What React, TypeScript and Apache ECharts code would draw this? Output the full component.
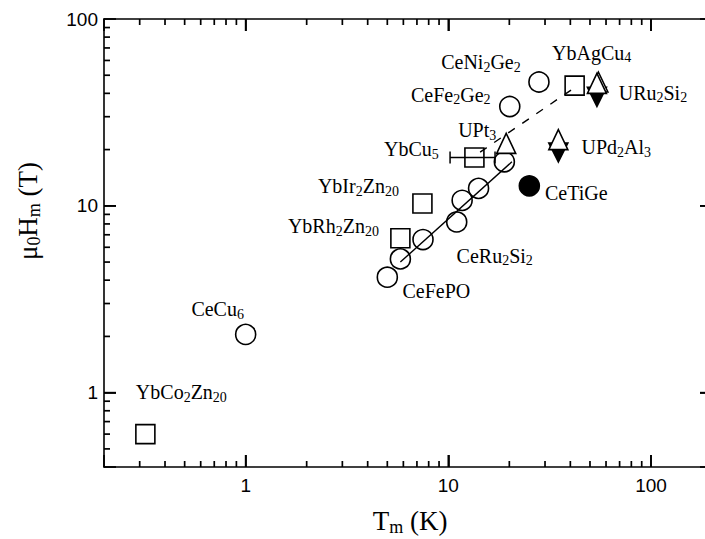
import React, { useEffect, useRef } from "react";
import * as echarts from "echarts";

// Axis ranges (log-log)
const X_MIN = 0.2;
const X_MAX = 200;
const Y_MIN = 0.4;
const Y_MAX = 100;

// Decades: labelled major ticks
const decadeLabels = [1, 10, 100];

// Minor tick positions inside each decade
const xMinorTicks = [0.3, 0.4, 0.5, 0.6, 0.7, 0.8, 0.9, 2, 3, 4, 5, 6, 7, 8, 9, 20, 30, 40, 50, 60, 70, 80, 90];
const yMinorTicks = [0.5, 0.6, 0.7, 0.8, 0.9, 2, 3, 4, 5, 6, 7, 8, 9, 20, 30, 40, 50, 60, 70, 80, 90];

// [Tm (K), mu0 Hm (T), compound]
const openCircles: [number, number, string][] = [
  [1.0, 2.05, "CeCu6"],
  [5.0, 4.15, "CeFePO"],
  [5.8, 5.2, ""],
  [7.5, 6.6, ""],
  [11.0, 8.2, "CeRu2Si2"],
  [11.7, 10.7, ""],
  [14.1, 12.4, ""],
  [18.9, 17.2, ""],
  [20.1, 34, "CeFe2Ge2"],
  [28, 46, "CeNi2Ge2"],
];

const openSquares: [number, number, string][] = [
  [0.32, 0.6, "YbCo2Zn20"],
  [5.8, 6.7, "YbRh2Zn20"],
  [7.45, 10.3, "YbIr2Zn20"],
  [13.45, 18.15, "YbCu5"],
  [42, 44, "YbAgCu4"],
];

const filledCircles: [number, number, string][] = [[25.1, 12.8, "CeTiGe"]];

const filledDownTriangles: [number, number, string][] = [
  [34.9, 19.3, "UPd2Al3"],
  [54.1, 38.3, "URu2Si2"],
];

const openUpTriangles: [number, number, string][] = [
  [55.0, 46.0, ""],
  [19.3, 21.6, "UPt3"],
  [34.9, 22.6, ""],
  [54.1, 45.2, ""],
];

// YbCu5 horizontal error bar: [Tm low, Tm high, Hm]
const ybCu5ErrorBar: [number, number, number][] = [[10.2, 17.0, 18.15]];

// Guide lines
const solidGuide: [number, number][] = [
  [5.8, 5.0],
  [20.6, 17.2],
];
const dashedGuide: [number, number][] = [
  [14.35, 19.4],
  [43.2, 43.8],
];

// Label placement relative to the marker centre, in pixels
const labelOffsets: Record<string, [number, number]> = {
  CeCu6: [-28, -25],
  YbCo2Zn20: [36, -42],
  CeNi2Ge2: [-58, -20],
  CeFe2Ge2: [-59, -12],
  YbAgCu4: [17, -33],
  URu2Si2: [56, -4],
  UPd2Al3: [58, -5],
  UPt3: [-29, -13],
  YbCu5: [-63, -8],
  CeTiGe: [47, 7],
  YbIr2Zn20: [-64, -17],
  YbRh2Zn20: [-67, -12],
  CeRu2Si2: [38, 34],
  CeFePO: [49, 14],
};

const INK = "#000";
const SERIF = "'Liberation Serif', 'Times New Roman', serif";
const SANS = "'Liberation Sans', Arial, sans-serif";

const MAJOR_LEN = 12;
const MINOR_LEN = 6;
const TICK_W = 1.7;

const formulaRich = {
  n: { fontFamily: SERIF, fontSize: 20, lineHeight: 24, color: INK },
  s: { fontFamily: SERIF, fontSize: 14, lineHeight: 12, color: INK, verticalAlign: "bottom" },
};

// digits in a formula become subscripts
const toRich = (f: string) =>
  ("{n|" + f.replace(/(\d+)/g, "}{s|$1}{n|") + "}").replace(/\{n\|\}/g, "");

const makeItems = (rows: [number, number, string][]) =>
  rows.map(([x, y, name]) => {
    const item: any = { value: [x, y], name };
    if (name && labelOffsets[name]) {
      item.label = {
        show: true,
        position: "inside",
        offset: labelOffsets[name],
        formatter: toRich(name),
        rich: formulaRich,
        color: INK,
        opacity: 1,
        textBorderWidth: 0,
        textBorderColor: "transparent",
      };
    }
    return item;
  });

const isDecadeLabel = (v: number) => decadeLabels.some((d) => Math.abs(d - v) < 1e-6 * d);

const axisCommon = {
  type: "log" as const,
  logBase: 10,
  axisLine: { show: true, onZero: false, lineStyle: { color: INK, width: 1.6 } },
  axisTick: { show: true, inside: true, length: MAJOR_LEN, lineStyle: { color: INK, width: TICK_W } },
  splitLine: { show: false },
  minorTick: { show: false },
  minorSplitLine: { show: false },
};

const labelCommon = {
  fontFamily: SANS,
  fontSize: 19,
  color: INK,
  formatter: (v: number) => (isDecadeLabel(v) ? String(Math.round(v)) : ""),
};

const titleRich = {
  n: { fontFamily: SERIF, fontSize: 27, lineHeight: 30, fill: INK, color: INK },
  s: { fontFamily: SERIF, fontSize: 18, lineHeight: 16, fill: INK, color: INK, verticalAlign: "bottom" },
};

// Inward frame ticks as thin rectangular symbols anchored on each frame edge
type Edge = "bottom" | "top" | "left" | "right";
const tickItems = (edge: Edge) => {
  const horiz = edge === "bottom" || edge === "top";
  const majors = horiz ? decadeLabels : decadeLabels.filter((v) => v < Y_MAX);
  const minors = horiz ? xMinorTicks : yMinorTicks;
  const list: [number, number][] = [
    ...majors.map((v) => [v, MAJOR_LEN] as [number, number]),
    ...minors.map((v) => [v, MINOR_LEN] as [number, number]),
  ];
  return list.map(([v, len]) => {
    switch (edge) {
      case "bottom":
        return { value: [v, Y_MIN], symbolSize: [TICK_W, len], symbolOffset: [0, -len / 2] };
      case "top":
        return { value: [v, Y_MAX], symbolSize: [TICK_W, len], symbolOffset: [0, len / 2] };
      case "left":
        return { value: [X_MIN, v], symbolSize: [len, TICK_W], symbolOffset: [len / 2, 0] };
      default:
        return { value: [X_MAX, v], symbolSize: [len, TICK_W], symbolOffset: [-len / 2, 0] };
    }
  });
};

const tickSeries = (edge: Edge) => ({
  type: "scatter",
  name: "ticks-" + edge,
  silent: true,
  clip: false,
  z: 5,
  symbol: "rect",
  itemStyle: { color: INK, opacity: 1, borderWidth: 0 },
  data: tickItems(edge),
});

export default function App() {
  const ref = useRef<HTMLDivElement>(null);

  useEffect(() => {
    if (!ref.current) return;
    const chart = echarts.init(ref.current, undefined, { renderer: "svg" });

    const markerStroke = { borderColor: INK, borderWidth: 1.6, opacity: 1 };

    const option: any = {
      animation: false,
      backgroundColor: "#fff",
      grid: {
        left: 104,
        top: 19,
        width: 608,
        height: 448,
        containLabel: false,
        outerBoundsMode: "none",
      },
      xAxis: [
        { ...axisCommon, min: X_MIN, max: X_MAX, position: "bottom", axisLabel: { ...labelCommon, margin: 9 } },
        { ...axisCommon, min: X_MIN, max: X_MAX, position: "top", axisLabel: { show: false } },
      ],
      yAxis: [
        { ...axisCommon, min: Y_MIN, max: Y_MAX, position: "left", axisLabel: { ...labelCommon, margin: 6 } },
        { ...axisCommon, min: Y_MIN, max: Y_MAX, position: "right", axisLabel: { show: false } },
      ],
      graphic: [
        {
          type: "text",
          x: 410,
          y: 521,
          style: { text: "{n|T}{s|m}{n| (K)}", align: "center", verticalAlign: "middle", rich: titleRich },
        },
        {
          type: "text",
          x: 28,
          y: 211,
          rotation: Math.PI / 2,
          style: { text: "{n|μ}{s|0}{n|H}{s|m}{n| (T)}", align: "center", verticalAlign: "middle", rich: titleRich },
        },
      ],
      series: [
        tickSeries("bottom"),
        tickSeries("top"),
        tickSeries("left"),
        tickSeries("right"),
        {
          type: "line",
          data: solidGuide,
          symbol: "none",
          lineStyle: { color: INK, width: 1.4 },
          z: 1,
        },
        {
          type: "line",
          data: dashedGuide,
          symbol: "none",
          lineStyle: { color: INK, width: 1.4, type: [8, 9] },
          z: 1,
        },
        // YbCu5 error bar
        {
          type: "custom",
          silent: true,
          encode: { x: [0, 1], y: 2 },
          data: ybCu5ErrorBar,
          renderItem: (_params: any, api: any) => {
            const p1 = api.coord([api.value(0), api.value(2)]);
            const p2 = api.coord([api.value(1), api.value(2)]);
            const st = { stroke: INK, lineWidth: 1.5 };
            const cap = 6;
            return {
              type: "group",
              children: [
                { type: "line", shape: { x1: p1[0], y1: p1[1], x2: p2[0], y2: p2[1] }, style: st },
                { type: "line", shape: { x1: p1[0], y1: p1[1] - cap, x2: p1[0], y2: p1[1] + cap }, style: st },
                { type: "line", shape: { x1: p2[0], y1: p2[1] - cap, x2: p2[0], y2: p2[1] + cap }, style: st },
              ],
            };
          },
        },
        {
          type: "scatter",
          name: "open circles",
          data: makeItems(openCircles),
          symbol: "circle",
          symbolSize: 20,
          itemStyle: { color: "none", ...markerStroke },
        },
        {
          type: "scatter",
          name: "open squares",
          data: makeItems(openSquares),
          symbol: "rect",
          symbolSize: 19,
          itemStyle: { color: "none", ...markerStroke },
        },
        {
          type: "scatter",
          name: "filled circles",
          data: makeItems(filledCircles),
          symbol: "circle",
          symbolSize: 20,
          itemStyle: { color: INK, ...markerStroke },
        },
        {
          type: "scatter",
          name: "filled triangles",
          data: makeItems(filledDownTriangles),
          symbol: "triangle",
          symbolRotate: 180,
          symbolSize: [19, 19],
          itemStyle: { color: INK, ...markerStroke },
        },
        {
          type: "scatter",
          name: "open triangles",
          data: makeItems(openUpTriangles),
          symbol: "triangle",
          symbolSize: [19, 20],
          itemStyle: { color: "#fff", ...markerStroke },
        },
      ],
    };

    chart.setOption(option);
    return () => chart.dispose();
  }, []);

  return (
    <div
      ref={ref}
      style={{ position: "fixed", left: 0, top: 0, width: 705, height: 539, background: "#fff" }}
    />
  );
}
